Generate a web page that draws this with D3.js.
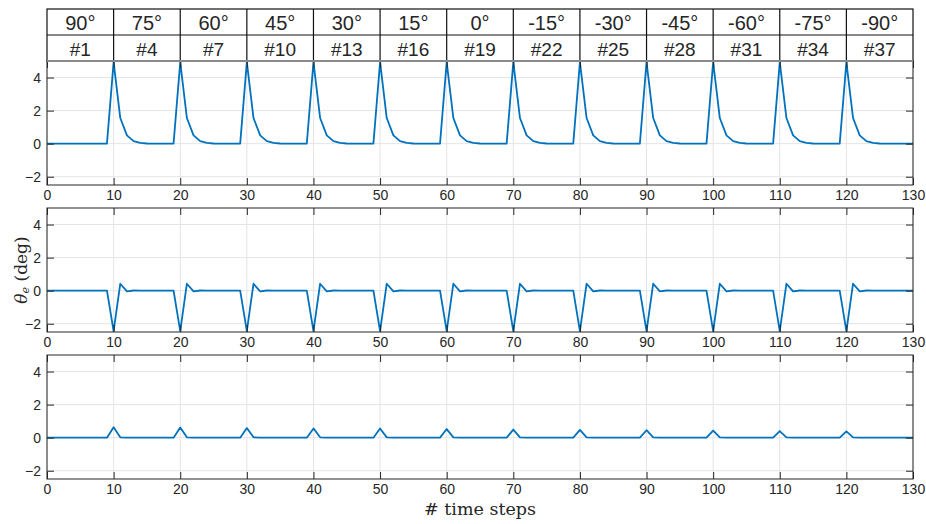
<!DOCTYPE html>
<html>
<head>
<meta charset="utf-8">
<script src="https://cdn.jsdelivr.net/npm/d3@7"></script>
<style>
  body { margin: 0; background: #fff; }
  text { font-family: "Liberation Sans", Arial, sans-serif; fill: #262626; }
</style>
</head>
<body>
<svg width="926" height="524"></svg>
<script>
// header table
const angles = ["90°", "75°", "60°", "45°", "30°", "15°", "0°", "-15°", "-30°", "-45°", "-60°", "-75°", "-90°"]
const caseIds = ["#1", "#4", "#7", "#10", "#13", "#16", "#19", "#22", "#25", "#28", "#31", "#34", "#37"]

const xTicks = [0, 10, 20, 30, 40, 50, 60, 70, 80, 90, 100, 110, 120, 130]
const yTicks = [-2, 0, 2, 4]

// values at time steps 0..130, one row per 10 steps
const topSeries = [
  0, 0, 0, 0, 0, 0, 0, 0, 0, 0,
  4.93, 1.55, 0.5, 0.15, 0.05, 0.01, 0, 0, 0, 0,
  4.93, 1.55, 0.5, 0.15, 0.05, 0.01, 0, 0, 0, 0,
  4.93, 1.55, 0.5, 0.15, 0.05, 0.01, 0, 0, 0, 0,
  4.93, 1.55, 0.5, 0.15, 0.05, 0.01, 0, 0, 0, 0,
  4.93, 1.55, 0.5, 0.15, 0.05, 0.01, 0, 0, 0, 0,
  4.93, 1.55, 0.5, 0.15, 0.05, 0.01, 0, 0, 0, 0,
  4.93, 1.55, 0.5, 0.15, 0.05, 0.01, 0, 0, 0, 0,
  4.93, 1.55, 0.5, 0.15, 0.05, 0.01, 0, 0, 0, 0,
  4.93, 1.55, 0.5, 0.15, 0.05, 0.01, 0, 0, 0, 0,
  4.93, 1.55, 0.5, 0.15, 0.05, 0.01, 0, 0, 0, 0,
  4.93, 1.55, 0.5, 0.15, 0.05, 0.01, 0, 0, 0, 0,
  4.93, 1.55, 0.5, 0.15, 0.05, 0.01, 0, 0, 0, 0,
  0
]
const midSeries = [
  0, 0, 0, 0, 0, 0, 0, 0, 0, 0,
  -2.45, 0.42, -0.04, 0.01, 0, 0, 0, 0, 0, 0,
  -2.45, 0.42, -0.04, 0.01, 0, 0, 0, 0, 0, 0,
  -2.45, 0.42, -0.04, 0.01, 0, 0, 0, 0, 0, 0,
  -2.45, 0.42, -0.04, 0.01, 0, 0, 0, 0, 0, 0,
  -2.45, 0.42, -0.04, 0.01, 0, 0, 0, 0, 0, 0,
  -2.45, 0.42, -0.04, 0.01, 0, 0, 0, 0, 0, 0,
  -2.45, 0.42, -0.04, 0.01, 0, 0, 0, 0, 0, 0,
  -2.45, 0.42, -0.04, 0.01, 0, 0, 0, 0, 0, 0,
  -2.45, 0.42, -0.04, 0.01, 0, 0, 0, 0, 0, 0,
  -2.45, 0.42, -0.04, 0.01, 0, 0, 0, 0, 0, 0,
  -2.45, 0.42, -0.04, 0.01, 0, 0, 0, 0, 0, 0,
  -2.45, 0.42, -0.04, 0.01, 0, 0, 0, 0, 0, 0,
  0
]
const lowSeries = [
  0, 0, 0, 0, 0, 0, 0, 0, 0, 0,
  0.63, 0.02, 0, 0, 0, 0, 0, 0, 0, 0,
  0.61, 0.02, 0, 0, 0, 0, 0, 0, 0, 0,
  0.58, 0.02, 0, 0, 0, 0, 0, 0, 0, 0,
  0.56, 0.02, 0, 0, 0, 0, 0, 0, 0, 0,
  0.55, 0.02, 0, 0, 0, 0, 0, 0, 0, 0,
  0.52, 0.02, 0, 0, 0, 0, 0, 0, 0, 0,
  0.49, 0.02, 0, 0, 0, 0, 0, 0, 0, 0,
  0.47, 0.02, 0, 0, 0, 0, 0, 0, 0, 0,
  0.45, 0.02, 0, 0, 0, 0, 0, 0, 0, 0,
  0.43, 0.02, 0, 0, 0, 0, 0, 0, 0, 0,
  0.4, 0.02, 0, 0, 0, 0, 0, 0, 0, 0,
  0.38, 0.02, 0, 0, 0, 0, 0, 0, 0, 0,
  0
]

const svg = d3.select("svg")
const axisColor = "#262626"
const gridColor = "#e4e4e4"
const lineColor = "#0072BD"
const tickLen = 7

const left = 47
const right = 913
const panelTops = [61, 208, 355]
const panelH = 124

const xScale = d3.scaleLinear().domain([0, 130]).range([left, right])

const drawPanel = (series, top) => {
  const yScale = d3.scaleLinear().domain([-2.5, 5]).range([top + panelH, top])
  const g = svg.append("g")

  // grid
  g.selectAll(".gx").data(xTicks).enter().append("line")
    .attr("x1", d => xScale(d)).attr("x2", d => xScale(d))
    .attr("y1", top).attr("y2", top + panelH)
    .attr("stroke", gridColor).attr("stroke-width", 1)
  g.selectAll(".gy").data(yTicks).enter().append("line")
    .attr("x1", left).attr("x2", right)
    .attr("y1", d => yScale(d)).attr("y2", d => yScale(d))
    .attr("stroke", gridColor).attr("stroke-width", 1)

  // data line
  const line = d3.line()
    .x((d, i) => xScale(i))
    .y(d => yScale(d))
  g.append("path")
    .datum(series)
    .attr("fill", "none")
    .attr("stroke", lineColor)
    .attr("stroke-width", 1.8)
    .attr("stroke-linejoin", "round")
    .attr("d", line)

  // inward ticks on all sides
  const xAxisB = d3.axisBottom(xScale).tickValues(xTicks).tickSize(-tickLen).tickPadding(5)
  const xAxisT = d3.axisTop(xScale).tickValues(xTicks).tickSize(-tickLen).tickFormat("")
  const yAxisL = d3.axisLeft(yScale).tickValues(yTicks).tickSize(-tickLen).tickPadding(6)
  const yAxisR = d3.axisRight(yScale).tickValues(yTicks).tickSize(-tickLen).tickFormat("")

  const styleAxis = sel => {
    sel.selectAll(".domain").remove()
    sel.selectAll("line").attr("stroke", axisColor)
    sel.selectAll("text").attr("fill", axisColor).style("font-size", "14px")
  }

  g.append("g").attr("transform", `translate(0, ${top + panelH})`).call(xAxisB).call(styleAxis)
  g.append("g").attr("transform", `translate(0, ${top})`).call(xAxisT).call(styleAxis)
  g.append("g").attr("transform", `translate(${left}, 0)`).call(yAxisL).call(styleAxis)
  g.append("g").attr("transform", `translate(${right}, 0)`).call(yAxisR).call(styleAxis)

  // box
  g.append("rect")
    .attr("x", left).attr("y", top)
    .attr("width", right - left).attr("height", panelH)
    .attr("fill", "none").attr("stroke", axisColor).attr("stroke-width", 1)
  return g
}

drawPanel(topSeries, panelTops[0])
drawPanel(midSeries, panelTops[1])
drawPanel(lowSeries, panelTops[2])

// header table above the first panel
const headTop = 9
const rowH = 26
const head = svg.append("g")
head.append("rect")
  .attr("x", left).attr("y", headTop)
  .attr("width", right - left).attr("height", rowH * 2)
  .attr("fill", "#fff").attr("stroke", "#111").attr("stroke-width", 1.2)
head.append("line")
  .attr("x1", left).attr("x2", right)
  .attr("y1", headTop + rowH).attr("y2", headTop + rowH)
  .attr("stroke", "#111").attr("stroke-width", 1.2)
head.selectAll(".vline").data(xTicks.slice(1, -1)).enter().append("line")
  .attr("x1", d => xScale(d)).attr("x2", d => xScale(d))
  .attr("y1", headTop).attr("y2", headTop + rowH * 2)
  .attr("stroke", "#111").attr("stroke-width", 1.2)
head.append("line")
  .attr("x1", left).attr("x2", right)
  .attr("y1", panelTops[0]).attr("y2", panelTops[0])
  .attr("stroke", "#8a8a8a").attr("stroke-width", 2)

head.selectAll(".ang").data(angles).enter().append("text")
  .attr("x", (d, i) => xScale(i * 10 + 5))
  .attr("y", headTop + 21)
  .attr("text-anchor", "middle")
  .style("font-size", "20px")
  .attr("fill", "#111")
  .text(d => d)
head.selectAll(".cid").data(caseIds).enter().append("text")
  .attr("x", (d, i) => xScale(i * 10 + 5))
  .attr("y", headTop + rowH + 21)
  .attr("text-anchor", "middle")
  .style("font-size", "19px")
  .attr("fill", "#111")
  .text(d => d)

// axis labels
const yLab = svg.append("text")
  .attr("transform", `translate(27, ${panelTops[1] + panelH / 2}) rotate(-90)`)
  .attr("text-anchor", "middle")
  .style("font-family", "'DejaVu Serif', 'Liberation Serif', serif")
  .style("font-size", "17px")
yLab.append("tspan").style("font-style", "italic").text("θ")
yLab.append("tspan").style("font-style", "italic").style("font-size", "11px").attr("dy", 2).text("e")
yLab.append("tspan").attr("dy", -2).text(" (deg)")

svg.append("text")
  .attr("x", (left + right) / 2)
  .attr("y", 515)
  .attr("text-anchor", "middle")
  .style("font-family", "'DejaVu Serif', 'Liberation Serif', serif")
  .style("font-size", "17.5px")
  .text("# time steps")
</script>
</body>
</html>
